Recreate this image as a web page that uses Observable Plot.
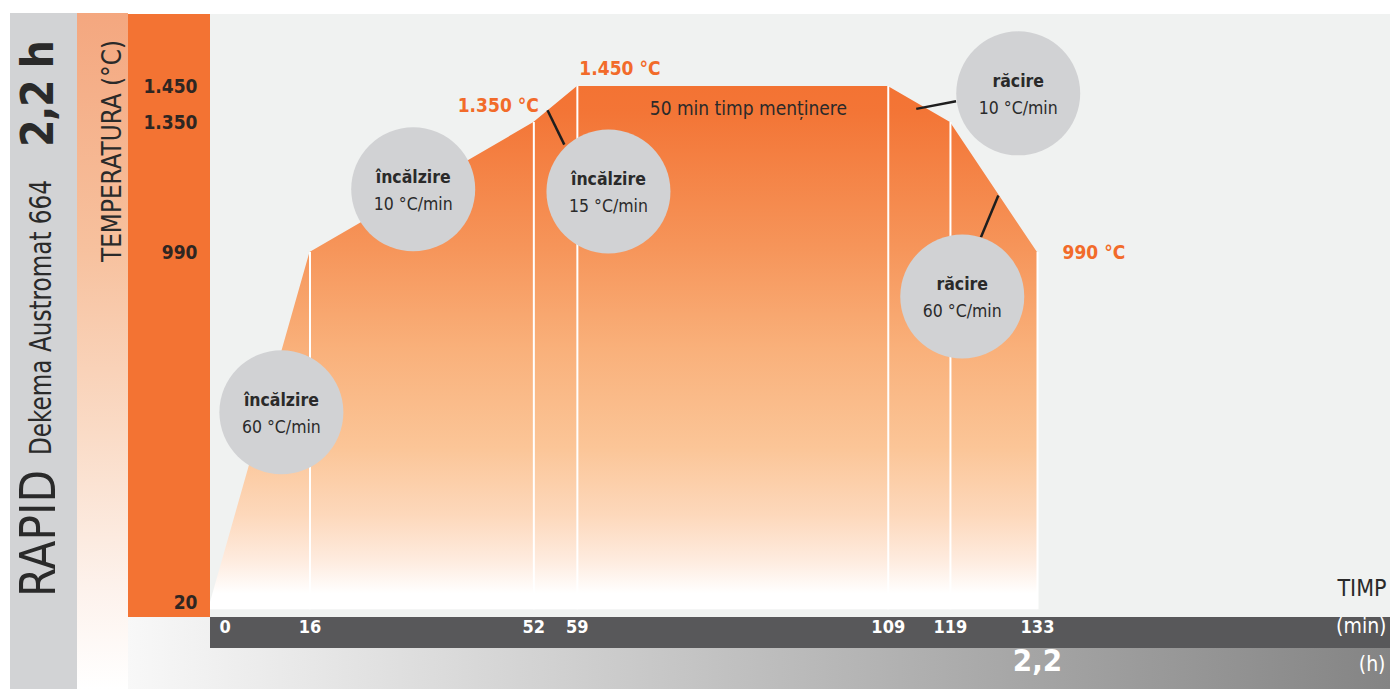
<!DOCTYPE html>
<html>
<head>
<meta charset="utf-8">
<script src="https://cdn.jsdelivr.net/npm/d3@7"></script>
<script src="https://cdn.jsdelivr.net/npm/@observablehq/plot@0.6"></script>
<style>
  body { margin: 0; background: #fff; overflow: hidden; }
  #wrap { position: relative; width: 1390px; height: 689px; overflow: hidden; }
  .band { position: absolute; }
  #chart, #side { position: absolute; left: 0; top: 0; }
  #chart svg { max-width: none; }
</style>
</head>
<body>
<div id="wrap">
  <!-- background bands -->
  <div class="band" style="left:10px;top:13px;width:67px;height:676px;background:#d2d3d5"></div>
  <div class="band" style="left:77px;top:13px;width:51px;height:676px;background:linear-gradient(#f4a77f 0%,#f7c19e 35%,#fadbc6 62%,#fdf2ec 85%,#ffffff 100%)"></div>
  <div class="band" style="left:128px;top:617px;width:1262px;height:72px;background:linear-gradient(90deg,#f8f8f8,#848484)"></div>
  <div class="band" style="left:128px;top:14px;width:82px;height:603px;background:#f37333"></div>
  <div class="band" style="left:210px;top:14px;width:1180px;height:603px;background:#f0f2f1"></div>
  <div class="band" style="left:210px;top:617px;width:1180px;height:31px;background:#58585a"></div>

  <!-- vertical titles -->
  <svg id="side" width="130" height="689">
    <g font-family="'Liberation Sans Narrow','DejaVu Sans Condensed',sans-serif" fill="#2a2a2a">
      <text transform="translate(55,597) rotate(-90)" font-size="50" textLength="127" lengthAdjust="spacingAndGlyphs">RAPID</text>
      <text transform="translate(51,455) rotate(-90)" font-size="31" textLength="275" lengthAdjust="spacingAndGlyphs">Dekema Austromat 664</text>
      <text transform="translate(53,147) rotate(-90)" font-size="44" font-weight="bold" textLength="107" lengthAdjust="spacing">2,2 h</text>
      <text transform="translate(121,262) rotate(-90)" font-size="26" textLength="222" lengthAdjust="spacingAndGlyphs">TEMPERATURA (°C)</text>
    </g>
  </svg>

  <div id="chart"></div>
</div>
<script>
// Firing programme: time (min) and temperature (°C) at each break point
const minutes = [0, 16, 52, 59, 109, 119, 133];
const temps   = [20, 990, 1350, 1450, 1450, 1350, 990];

// Temperature axis ticks
const tempTicks = [20, 990, 1350, 1450];

// Stage bubbles: name, rate and position (min, °C)
const stageNames = ["încălzire", "încălzire", "încălzire", "răcire", "răcire"];
const stageRates = ["60 °C/min", "10 °C/min", "15 °C/min", "10 °C/min", "60 °C/min"];
const stageMin   = [11.4, 32.6, 64.0, 129.9, 120.9];
const stageTemp  = [547, 1165, 1159, 1431, 868];

// Leader lines from bubbles to the curve (min, °C)
const leaderMin1  = [54.2, 113.5, 126.7];
const leaderTemp1 = [1384, 1388, 1148];
const leaderMin2  = [56.9, 119.9, 123.9];
const leaderTemp2 = [1289, 1409, 1032];

// Hold period label
const holdText = "50 min timp menținere";
const holdMin = 86.5;
const holdTemp = 1389;

// Total duration in hours
const totalHours = "2,2";
const totalMin = 133;

const profile = minutes.map((t, i) => ({t, temp: temps[i]}));
const stages = stageNames.map((name, i) => ({name, rate: stageRates[i], t: stageMin[i], temp: stageTemp[i]}));
const leaders = leaderMin1.map((t1, i) => ({t1, y1: leaderTemp1[i], t2: leaderMin2[i], y2: leaderTemp2[i]}));

const fmt = d3.formatLocale({decimal: ",", thousands: ".", grouping: [3], currency: ["", ""]}).format(",d");

const peakLabels = [
  {t: 59, temp: 1500, text: fmt(1450) + " °C", anchor: "start", dx: 2},
  {t: 52, temp: 1395, text: fmt(1350) + " °C", anchor: "end", dx: 5},
  {t: 133, temp: 990, text: fmt(990) + " °C", anchor: "start", dx: 25}
];

const COND = "'DejaVu Sans Condensed','DejaVu Sans',sans-serif";

// gradient used by the area fill
const gradientDefs = () => {
  const d = document.createElementNS("http://www.w3.org/2000/svg", "defs");
  d.innerHTML = `<linearGradient id="heat" x1="0" y1="0" x2="0" y2="1">
      <stop offset="0" stop-color="#f37333"/>
      <stop offset="0.05" stop-color="#f37536"/>
      <stop offset="0.31" stop-color="#f6955a"/>
      <stop offset="0.5" stop-color="#f9b07a"/>
      <stop offset="0.69" stop-color="#fbc597"/>
      <stop offset="0.82" stop-color="#fdd8bb"/>
      <stop offset="0.91" stop-color="#feece0"/>
      <stop offset="0.97" stop-color="#ffffff"/>
      <stop offset="1" stop-color="#ffffff"/>
    </linearGradient>`;
  return d;
};

const chart = Plot.plot({
  width: 1390,
  height: 689,
  marginLeft: 210,
  marginRight: 4,
  marginTop: 14,
  marginBottom: 72,
  style: {background: "transparent", overflow: "visible"},
  x: {domain: [0, 133], range: [210, 1037], axis: null},
  y: {domain: [20, 1450], range: [602, 86]},
  marks: [
    gradientDefs,
    Plot.areaY(profile, {x: "t", y1: 0, y2: "temp", fill: "url(#heat)"}),
    Plot.ruleX(profile.slice(1), {x: "t", y1: 0, y2: "temp", stroke: "white", strokeWidth: 2}),
    Plot.axisY(tempTicks, {
      anchor: "left", tickSize: 0, tickPadding: 13, label: null, tickFormat: fmt,
      fontSize: 19, fontWeight: "bold", fontFamily: COND, fill: "#2e2622"
    }),
    // time ticks on the dark bar
    Plot.text(minutes.slice(0, 1), {x: d => d, text: d => String(d), frameAnchor: "bottom", dy: 15, dx: 9, textAnchor: "start",
      fill: "white", fontSize: 18, fontWeight: "bold", fontFamily: COND}),
    Plot.text(minutes.slice(1), {x: d => d, text: d => String(d), frameAnchor: "bottom", dy: 15,
      fill: "white", fontSize: 18, fontWeight: "bold", fontFamily: COND}),
    Plot.text([totalHours], {x: () => totalMin, text: d => d, frameAnchor: "bottom", dy: 53,
      fill: "white", fontSize: 31, fontWeight: "bold", fontFamily: COND}),
    Plot.text(["TIMP"], {frameAnchor: "bottom-right", dy: -22, textAnchor: "end", fill: "#2a2a2a", fontSize: 23, fontFamily: COND}),
    Plot.text(["(min)"], {frameAnchor: "bottom-right", dy: 15, textAnchor: "end", fill: "white", fontSize: 21, fontFamily: COND}),
    Plot.text(["(h)"], {frameAnchor: "bottom-right", dy: 53, dx: -1, textAnchor: "end", fill: "white", fontSize: 21, fontFamily: COND}),
    // peak temperatures
    ...peakLabels.map(p => Plot.text([p], {x: "t", y: "temp", text: "text", textAnchor: p.anchor, dx: p.dx,
      fill: "#f26b2a", fontSize: 19, fontWeight: "bold", fontFamily: COND})),
    Plot.text([holdText], {x: () => holdMin, y: () => holdTemp, text: d => d, fill: "#2a2a2a", fontSize: 19, fontFamily: COND}),
    // stage bubbles
    Plot.link(leaders, {x1: "t1", y1: "y1", x2: "t2", y2: "y2", stroke: "#1e1e1e", strokeWidth: 2.5}),
    Plot.dot(stages, {x: "t", y: "temp", r: 62, fill: "#d1d2d4", stroke: null}),
    Plot.text(stages, {x: "t", y: "temp", text: "name", dy: -12, fill: "#2a2a2a", fontSize: 17.5, fontWeight: "bold", fontFamily: COND}),
    Plot.text(stages, {x: "t", y: "temp", text: "rate", dy: 15, fill: "#2a2a2a", fontSize: 17.5, fontFamily: COND})
  ]
});

document.getElementById("chart").appendChild(chart);
</script>
</body>
</html>
